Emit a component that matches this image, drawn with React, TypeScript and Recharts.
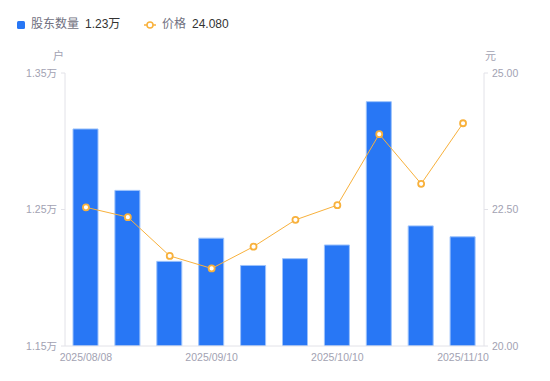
import React from "react";
import {
  ComposedChart,
  Bar,
  Line,
  XAxis,
  YAxis,
} from "recharts";

const dates = [
  "2025/08/08",
  "2025/08/20",
  "2025/08/29",
  "2025/09/10",
  "2025/09/19",
  "2025/09/30",
  "2025/10/10",
  "2025/10/20",
  "2025/10/31",
  "2025/11/10",
];
const holders = [13090, 12640, 12120, 12290, 12090, 12140, 12240, 13290, 12380, 12300];
const prices = [22.54, 22.36, 21.65, 21.42, 21.82, 22.31, 22.58, 23.88, 22.97, 24.08];

const leftTicks = [11500, 12500, 13500];
const rightTicks = [20, 22.5, 25];

const FONT = "'Liberation Sans', 'Noto Sans CJK SC', sans-serif";
const BLUE = "#2877f5";
const ORANGE = "#f8b13c";
const AXIS = "#e2e2e8";
const TICK = "#a2a2b2";

export default function App() {
  const data = dates.map((d, i) => ({
    date: d,
    holders: holders[i],
    price: prices[i],
  }));

  const tickStyle = { fill: TICK, fontSize: 10.5, fontFamily: FONT };

  return (
    <div
      style={{
        position: "absolute",
        left: 0,
        top: 0,
        width: 550,
        height: 381,
        background: "#fff",
        fontFamily: FONT,
      }}
    >
      {/* legend */}
      <div style={{ position: "absolute", left: 17, top: 21, width: 8, height: 8, background: BLUE, borderRadius: 1.5 }} />
      <span style={{ position: "absolute", left: 31, top: 16, fontSize: 12, color: "#707080", lineHeight: "17px" }}>股东数量</span>
      <span style={{ position: "absolute", left: 85, top: 16, fontSize: 12, color: "#333", lineHeight: "17px" }}>1.23万</span>
      <svg style={{ position: "absolute", left: 144, top: 19 }} width={12} height={12}>
        <line x1={0} y1={6} x2={12} y2={6} stroke={ORANGE} strokeWidth={1.5} />
        <circle cx={6} cy={6} r={3} fill="#fff" stroke={ORANGE} strokeWidth={1.5} />
      </svg>
      <span style={{ position: "absolute", left: 162, top: 16, fontSize: 12, color: "#707080", lineHeight: "17px" }}>价格</span>
      <span style={{ position: "absolute", left: 192, top: 16, fontSize: 12, color: "#333", lineHeight: "17px" }}>24.080</span>

      {/* units */}
      <span style={{ position: "absolute", left: 53, top: 49, fontSize: 11, color: TICK, lineHeight: "15px" }}>户</span>
      <span style={{ position: "absolute", left: 485, top: 49, fontSize: 11, color: TICK, lineHeight: "15px" }}>元</span>

      <div style={{ position: "absolute", left: 0, top: 0 }}>
        <ComposedChart
          width={550}
          height={381}
          data={data}
          margin={{ top: 73, right: 0, bottom: 5, left: 0 }}
        >
          <XAxis
            dataKey="date"
            interval={2}
            tickLine={false}
            axisLine={{ stroke: AXIS }}
            tick={tickStyle}
            height={30}
          />
          <YAxis
            yAxisId="left"
            orientation="left"
            width={65}
            domain={[11500, 13500]}
            ticks={leftTicks}
            tickFormatter={(v: number) => (v / 10000).toFixed(2) + "万"}
            axisLine={{ stroke: AXIS }}
            tickLine={{ stroke: AXIS }}
            tickSize={4}
            tickMargin={4}
            tick={tickStyle}
            allowDataOverflow
          />
          <YAxis
            yAxisId="right"
            orientation="right"
            width={66}
            domain={[20, 25]}
            ticks={rightTicks}
            tickFormatter={(v: number) => v.toFixed(2)}
            axisLine={{ stroke: AXIS }}
            tickLine={{ stroke: AXIS }}
            tickSize={4}
            tickMargin={4}
            tick={tickStyle}
            allowDataOverflow
          />
          <Bar
            yAxisId="left"
            dataKey="holders"
            fill={BLUE}
            stroke="#9cc2fb"
            strokeWidth={1}
            barSize={25}
            isAnimationActive={false}
          />
          <Line
            yAxisId="right"
            dataKey="price"
            stroke={ORANGE}
            strokeWidth={1}
            dot={{ r: 3, fill: "#fff", stroke: ORANGE, strokeWidth: 1.8 }}
            activeDot={false}
            isAnimationActive={false}
          />
        </ComposedChart>
      </div>
    </div>
  );
}
